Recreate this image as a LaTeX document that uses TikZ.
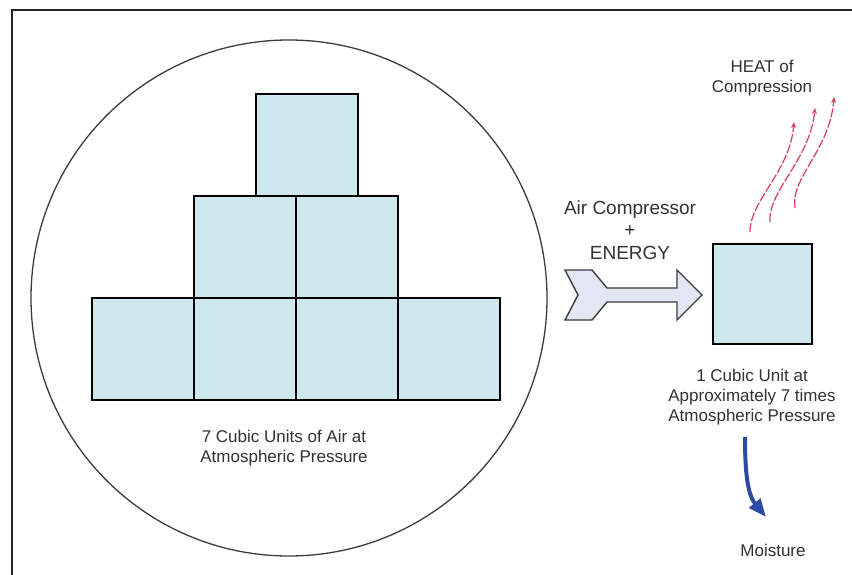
\documentclass[tikz,border=0pt]{standalone}
\usepackage{fontspec}
\setmainfont{Liberation Sans}
\usetikzlibrary{arrows.meta}

\definecolor{cubefill}{RGB}{207,232,238}
\definecolor{txt}{RGB}{50,50,50}
\definecolor{heatred}{RGB}{214,62,88}
\definecolor{wetblue}{RGB}{44,74,162}
\definecolor{arrowfill}{RGB}{226,231,243}
\definecolor{rimgray}{RGB}{60,60,60}

\tikzset{
  cube/.style={draw=black, line width=1.8pt, fill=cubefill,
    minimum width=102pt, minimum height=102pt, inner sep=0pt, anchor=north west},
  label/.style={text=txt, align=center, inner sep=0pt,
    font=\fontsize{17}{20}\selectfont},
  biglabel/.style={text=txt, align=center, inner sep=0pt,
    font=\fontsize{19}{22.5}\selectfont},
  heat/.style={draw=heatred, line width=1.2pt, dash pattern=on 9pt off 2pt,
    -{Stealth[length=6pt,width=5pt]}},
  moist/.style={draw=wetblue, line width=4pt,
    -{Triangle[length=18pt,width=14pt]}}
}

\begin{document}
\begin{tikzpicture}[x=1pt,y=-1pt]
\useasboundingbox (0,0) rectangle (852,575);
\fill[white] (0,0) rectangle (852,575);

% frame
\draw[line width=2pt, black!85] (12,575) -- (12,10) -- (852,10);

% enclosing circle
\draw[rimgray, line width=1.3pt] (289,298) circle[radius=258pt];

% seven cubes at atmospheric pressure
\node[cube] (c1) at (91,297) {};
\node[cube] (c2) at (193,297) {};
\node[cube] (c3) at (295,297) {};
\node[cube] (c4) at (397,297) {};
\node[cube] (c5) at (193,195) {};
\node[cube] (c6) at (295,195) {};
\node[cube] (c7) at (255,93) {};

\node[label] (leftlbl) at (284,448) {7 Cubic Units of Air at\\Atmospheric Pressure};

% compressor arrow
\draw[rimgray, line width=1.4pt, fill=arrowfill, line join=miter]
  (565,270) -- (592,270) -- (607,288) -- (677,288) -- (677,270) -- (702,295)
  -- (677,320) -- (677,302) -- (607,302) -- (592,320) -- (565,320) -- (578,295) -- cycle;
\node[biglabel] (comp) at (630,230) {Air Compressor\\+\\ENERGY};

% compressed cube
\node[cube, minimum width=99pt, minimum height=100pt] (small) at (712,243) {};
\node[label] (rightlbl) at (752,397) {1 Cubic Unit at\\Approximately 7 times\\Atmospheric Pressure};

% heat of compression
\node[label, font=\fontsize{17}{19.5}\selectfont] (heatlbl) at (762,78) {HEAT of\\Compression};
\coordinate (h1s) at (750,232); \coordinate (h1e) at (794,122);
\coordinate (h2s) at (770,222); \coordinate (h2e) at (815,108);
\coordinate (h3s) at (795,208); \coordinate (h3e) at (834,97);
\draw[heat] (h1s) .. controls (750,200) and (790,172) .. (h1e);
\draw[heat] (h2s) .. controls (768,190) and (810,160) .. (h2e);
\draw[heat] (h3s) .. controls (790,178) and (830,150) .. (h3e);

% moisture
\node[label] (moist) at (773,550) {Moisture};
\coordinate (ms) at (745,437);
\coordinate (me) at (766,517);
\draw[moist] (ms) .. controls (745,475) and (748,495) .. (me);
\end{tikzpicture}
\end{document}
